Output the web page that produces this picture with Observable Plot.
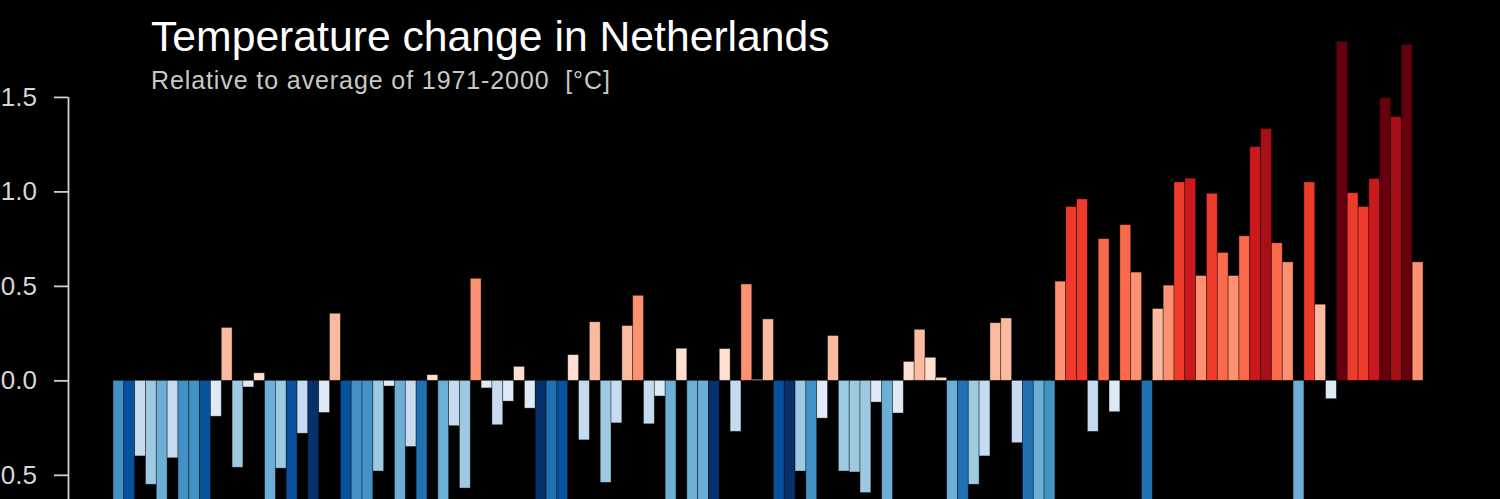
<!DOCTYPE html>
<html>
<head>
<meta charset="utf-8">
<script src="https://cdn.jsdelivr.net/npm/d3@7"></script>
<script src="https://cdn.jsdelivr.net/npm/@observablehq/plot@0.6"></script>
<style>
  html, body { margin: 0; padding: 0; background: #000; }
  #wrap { position: relative; width: 1500px; height: 499px; overflow: hidden; background: #000; }
  #chart svg { display: block; }
  #title { position: absolute; left: 151px; top: 15px; font: 42.7px/1 "Liberation Sans", Arial, sans-serif; color: #fff; white-space: pre; }
  #subtitle { position: absolute; left: 151px; top: 68px; font: 25px/1 "Liberation Sans", Arial, sans-serif; letter-spacing: 0.9px; color: #c8c8c8; white-space: pre; }
</style>
</head>
<body>
<div id="wrap">
  <div id="chart"></div>
  <div id="title">Temperature change in Netherlands</div>
  <div id="subtitle">Relative to average of 1971-2000  [°C]</div>
</div>
<script>
const years = [
  1901, 1902, 1903, 1904, 1905, 1906, 1907, 1908, 1909, 1910,
  1911, 1912, 1913, 1914, 1915, 1916, 1917, 1918, 1919, 1920,
  1921, 1922, 1923, 1924, 1925, 1926, 1927, 1928, 1929, 1930,
  1931, 1932, 1933, 1934, 1935, 1936, 1937, 1938, 1939, 1940,
  1941, 1942, 1943, 1944, 1945, 1946, 1947, 1948, 1949, 1950,
  1951, 1952, 1953, 1954, 1955, 1956, 1957, 1958, 1959, 1960,
  1961, 1962, 1963, 1964, 1965, 1966, 1967, 1968, 1969, 1970,
  1971, 1972, 1973, 1974, 1975, 1976, 1977, 1978, 1979, 1980,
  1981, 1982, 1983, 1984, 1985, 1986, 1987, 1988, 1989, 1990,
  1991, 1992, 1993, 1994, 1995, 1996, 1997, 1998, 1999, 2000,
  2001, 2002, 2003, 2004, 2005, 2006, 2007, 2008, 2009, 2010,
  2011, 2012, 2013, 2014, 2015, 2016, 2017, 2018, 2019, 2020,
  2021
];
// Annual temperature anomaly (°C) relative to 1971-2000
const anomalies = [
  -0.95, -1.35, -0.40, -0.55, -0.75, -0.41, -0.95, -0.95, -1.35, -0.19,
   0.28, -0.46, -0.035, 0.04, -0.75, -0.465, -1.35, -0.28, -1.60, -0.17,
   0.355, -1.35, -0.95, -0.95, -0.48, -0.03, -0.75, -0.35, -1.15, 0.03,
  -0.75, -0.24, -0.57, 0.54, -0.04, -0.235, -0.11, 0.074, -0.147, -1.60,
  -1.15, -1.35, 0.136, -0.315, 0.31, -0.54, -0.225, 0.29, 0.45, -0.23,
  -0.083, -0.75, 0.17, -0.75, -0.75, -1.60, 0.168, -0.27, 0.51, 0.005,
   0.325, -1.35, -1.60, -0.48, -0.95, -0.20, 0.237, -0.48, -0.485, -0.594,
  -0.115, -0.75, -0.173, 0.10, 0.27, 0.122, 0.016, -0.75, -1.15, -0.55,
  -0.40, 0.305, 0.33, -0.33, -1.15, -0.75, -0.95, 0.525, 0.92, 0.96,
  -0.27, 0.75, -0.166, 0.824, 0.573, -1.15, 0.38, 0.504, 1.05, 1.07,
   0.555, 0.99, 0.677, 0.555, 0.765, 1.237, 1.333, 0.728, 0.627, -0.75,
   1.05, 0.403, -0.097, 1.795, 0.993, 0.92, 1.068, 1.496, 1.397, 1.777,
   0.627
];
const yTicks = [1.5, 1.0, 0.5, 0.0, -0.5];
const yDomain = [-0.628, 2.013];
const colorThresholds = [-1.484, -1.272, -1.06, -0.848, -0.636, -0.424, -0.212, 0,
                         0.212, 0.424, 0.636, 0.848, 1.06, 1.272, 1.484];
const colorRange = ["#08306b", "#08519c", "#2171b5", "#4292c6", "#6baed6", "#9ecae1", "#c6dbef", "#deebf7",
                    "#fee0d2", "#fcbba1", "#fc9272", "#fb6a4a", "#ef3b2c", "#cb181d", "#a50f15", "#67000d"];

const data = years.map((year, i) => ({year, anomaly: anomalies[i]}));

const bandLeft = 113, bandRight = 1423, axisLeft = 68;
const bw = (bandRight - bandLeft) / years.length;

const svg = Plot.plot({
  width: 1500,
  height: 499,
  marginTop: 0,
  marginBottom: 0,
  marginLeft: axisLeft,
  marginRight: 1500 - bandRight,
  style: {background: "#000", color: "#d6d6d6", fontFamily: '"Liberation Sans", Arial, sans-serif', overflow: "hidden"},
  x: {type: "band", domain: years, range: [bandLeft, bandRight], padding: 0, axis: null},
  y: {domain: yDomain, axis: null},
  color: {type: "threshold", domain: colorThresholds, range: colorRange},
  marks: [
    Plot.barY(data, {x: "year", y: "anomaly", fill: "anomaly", stroke: "#000", strokeOpacity: 0.45, strokeWidth: 0.8, clip: true}),
    Plot.ruleX([years[0]], {y1: yDomain[0], y2: d3.max(yTicks), dx: axisLeft - bandLeft - bw / 2, stroke: "#cfcfcf", strokeWidth: 1.8}),
    Plot.axisY(yTicks, {anchor: "left", tickSize: 14, tickPadding: 17.5, tickFormat: d3.format(".1f"),
      stroke: "#cfcfcf", strokeWidth: 1.8, fill: "#d6d6d6", fontSize: 26, label: null})
  ]
});
document.getElementById("chart").append(svg);
</script>
</body>
</html>
